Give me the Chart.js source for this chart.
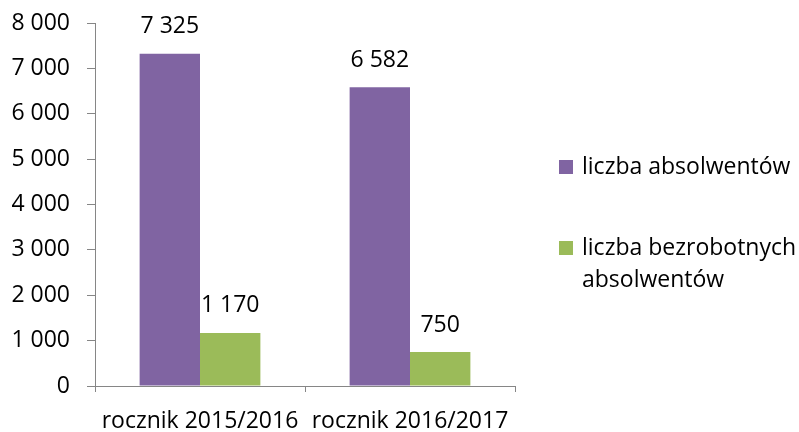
<!DOCTYPE html>
<html lang="pl">
<head>
<meta charset="UTF-8">
<title>Absolwenci</title>
<script src="https://cdn.jsdelivr.net/npm/chart.js"></script>
<style>
  html, body { margin: 0; padding: 0; background: #fff; }
  #wrap { width: 799px; height: 432px; position: relative; }
</style>
</head>
<body>
<div id="wrap"><canvas id="chart"></canvas></div>
<script>
const categories = ['rocznik 2015/2016', 'rocznik 2016/2017'];
const seriesNames = ['liczba absolwentów', 'liczba bezrobotnych absolwentów'];
const graduates = [7325, 6582];
const unemployed = [1170, 750];
const yTicks = [0, 1000, 2000, 3000, 4000, 5000, 6000, 7000, 8000];

const FONT = '"Open Sans", sans-serif';
const FS = 23;
const fmt = v => String(v).replace(/\B(?=(\d{3})+(?!\d))/g, ' ');

// labels above bars
const valueLabels = {
    id: 'valueLabels',
    afterDatasetsDraw(chart) {
        const ctx = chart.ctx;
        ctx.save();
        ctx.font = FS + 'px ' + FONT;
        ctx.fillStyle = '#000';
        ctx.textAlign = 'center';
        ctx.textBaseline = 'middle';
        chart.data.datasets.forEach((ds, i) => {
            chart.getDatasetMeta(i).data.forEach((bar, j) => {
                ctx.fillText(fmt(ds.data[j]), bar.x, bar.y - 27);
            });
        });
        ctx.restore();
    }
};

// legend on the right, second label wraps
const sideLegend = {
    id: 'sideLegend',
    afterDraw(chart) {
        const ctx = chart.ctx;
        const items = [
            { lines: ['liczba absolwentów'], y: 167 },
            { lines: ['liczba bezrobotnych', 'absolwentów'], y: 248 }
        ];
        ctx.save();
        ctx.font = FS + 'px ' + FONT;
        ctx.textBaseline = 'middle';
        ctx.textAlign = 'left';
        items.forEach((it, i) => {
            ctx.fillStyle = chart.data.datasets[i].backgroundColor;
            ctx.fillRect(559, it.y - 7, 14, 14);
            ctx.fillStyle = '#000';
            it.lines.forEach((ln, k) => ctx.fillText(ln, 582, it.y + k * 32));
        });
        ctx.restore();
    }
};

new Chart(document.getElementById('chart'), {
    type: 'bar',
    data: {
        labels: categories,
        datasets: [
            { label: seriesNames[0], data: graduates, backgroundColor: '#8064A2' },
            { label: seriesNames[1], data: unemployed, backgroundColor: '#9BBB59' }
        ]
    },
    options: {
        responsive: true,
        maintainAspectRatio: false,
        animation: false,
        layout: { padding: { top: 23, right: 284, left: 0, bottom: 0 } },
        plugins: { legend: { display: false }, tooltip: { enabled: false } },
        datasets: { bar: { categoryPercentage: 0.575, barPercentage: 1 } },
        scales: {
            x: {
                grid: { display: true, drawOnChartArea: false, offset: true, tickLength: 6, color: '#868686' },
                border: { color: '#868686', width: 1 },
                ticks: { color: '#000', font: { family: FONT, size: FS }, padding: 16, maxRotation: 0, autoSkip: false },
                afterFit(s) { s.height = 46; s.paddingLeft = 0; s.paddingRight = 0; }
            },
            y: {
                min: 0, max: 8000,
                afterBuildTicks(s) { s.ticks = yTicks.map(v => ({ value: v })); },
                grid: { display: true, drawOnChartArea: false, tickLength: 8, color: '#868686' },
                border: { color: '#868686', width: 1 },
                ticks: { color: '#000', font: { family: FONT, size: FS }, padding: 17, callback: v => fmt(v) },
                afterFit(s) { s.width = 95; s.paddingTop = 0; s.paddingBottom = 0; }
            }
        }
    },
    plugins: [valueLabels, sideLegend]
});
</script>
</body>
</html>
